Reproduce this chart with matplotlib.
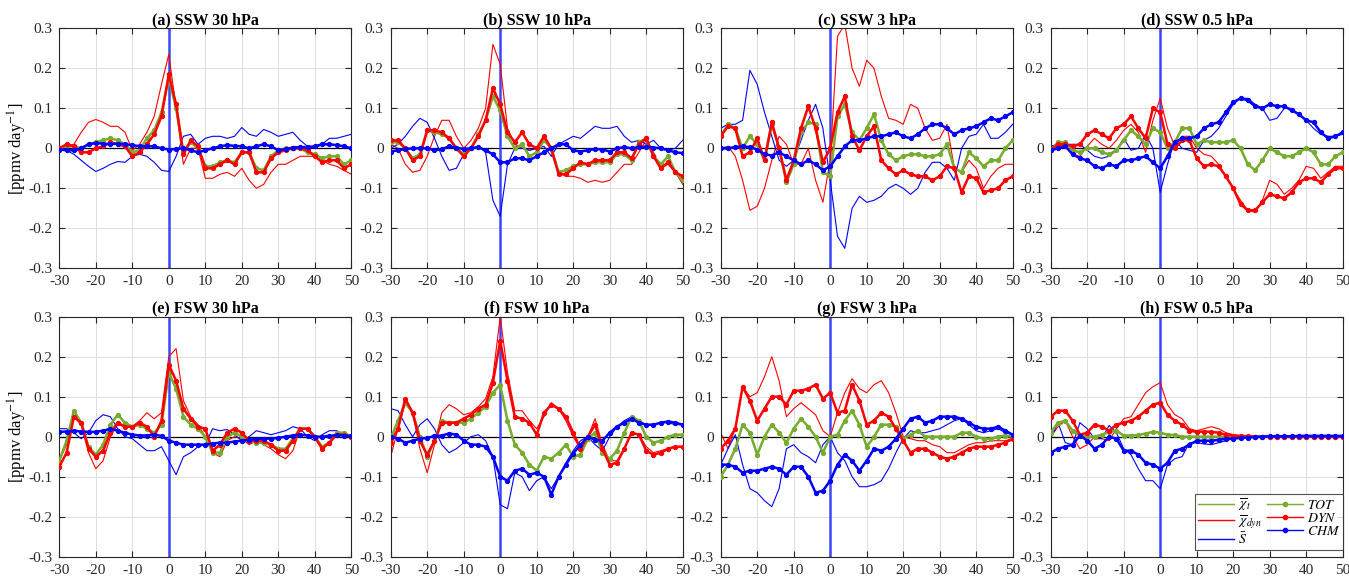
import numpy as np
import matplotlib
matplotlib.use("Agg")
import matplotlib.pyplot as plt
from matplotlib.lines import Line2D

plt.rcParams['font.family'] = ['Liberation Serif', 'DejaVu Serif']
plt.rcParams['mathtext.fontset'] = 'stix'
plt.rcParams['axes.unicode_minus'] = False

days = list(range(-30, 51, 2))

# ---------------- (a) SSW 30 hPa ----------------
TOT_a = [0.000, 0.005, 0.005, 0.000, 0.010, 0.015, 0.020, 0.025, 0.020, 0.010,
         -0.010, -0.005, 0.025, 0.045, 0.090, 0.175, 0.100, -0.010, 0.015, 0.000,
         -0.045, -0.045, -0.035, -0.030, -0.035, -0.010, -0.010, -0.050, -0.055, -0.020,
         -0.005, 0.000, 0.000, 0.000, -0.010, -0.015, -0.025, -0.020, -0.020, -0.040, -0.030]
DYN_a = [0.000, 0.010, 0.005, -0.010, -0.010, 0.000, 0.005, 0.015, 0.010, 0.005,
         -0.020, -0.010, 0.010, 0.035, 0.080, 0.185, 0.110, -0.015, 0.020, 0.005,
         -0.050, -0.050, -0.040, -0.030, -0.040, -0.010, -0.010, -0.060, -0.060, -0.025,
         -0.010, -0.005, 0.000, 0.000, -0.005, -0.020, -0.035, -0.030, -0.030, -0.050, -0.040]
CHM_a = [-0.003, -0.005, -0.005, 0.000, 0.010, 0.013, 0.012, 0.010, 0.012, 0.010,
         0.008, 0.005, 0.005, 0.005, 0.000, -0.003, -0.002, 0.000, -0.005, -0.010,
         -0.005, 0.000, 0.005, 0.008, 0.006, 0.005, 0.000, 0.005, 0.010, 0.005,
         -0.005, -0.002, 0.002, 0.003, 0.003, 0.005, 0.010, 0.010, 0.008, 0.005, 0.000]
XDYN_a = [0.000, 0.005, 0.010, 0.040, 0.065, 0.072, 0.065, 0.055, 0.055, 0.040,
          -0.005, 0.010, 0.040, 0.080, 0.160, 0.235, 0.100, -0.040, 0.000, 0.000,
          -0.075, -0.075, -0.065, -0.060, -0.070, -0.050, -0.080, -0.100, -0.090, -0.060,
          -0.040, -0.040, -0.030, -0.020, -0.020, -0.020, -0.030, -0.040, -0.045, -0.055, -0.065]
XS_a = [0.000, -0.005, -0.015, -0.030, -0.045, -0.058, -0.050, -0.040, -0.033, -0.035,
        -0.020, -0.015, -0.020, -0.035, -0.055, -0.058, -0.020, 0.030, 0.035, 0.010,
        0.025, 0.030, 0.030, 0.025, 0.030, 0.052, 0.035, 0.030, 0.047, 0.040,
        0.030, 0.035, 0.040, 0.020, 0.005, 0.000, 0.010, 0.025, 0.025, 0.030, 0.035]
XT_a = TOT_a

# ---------------- (b) SSW 10 hPa ----------------
TOT_b = [0.015, 0.015, 0.000, -0.025, -0.015, 0.045, 0.040, 0.035, 0.025, 0.000,
         -0.015, 0.000, 0.035, 0.070, 0.130, 0.095, 0.030, 0.000, 0.010, -0.020,
         -0.010, 0.020, 0.000, -0.060, -0.055, -0.045, -0.040, -0.040, -0.035, -0.035,
         -0.035, -0.015, -0.015, -0.030, 0.015, 0.025, -0.020, -0.040, -0.020, -0.060, -0.080]
DYN_b = [0.020, 0.020, 0.000, -0.030, -0.020, 0.045, 0.045, 0.040, 0.025, 0.000,
         -0.020, 0.000, 0.030, 0.070, 0.150, 0.110, 0.040, 0.015, 0.040, 0.010,
         0.000, 0.030, 0.000, -0.065, -0.065, -0.050, -0.035, -0.040, -0.030, -0.030,
         -0.030, -0.010, -0.010, -0.025, 0.010, 0.025, -0.020, -0.050, -0.035, -0.060, -0.070]
CHM_b = [-0.008, -0.005, -0.002, 0.000, 0.000, 0.000, -0.005, -0.002, 0.005, 0.002,
         -0.002, 0.000, 0.003, -0.005, -0.015, -0.035, -0.035, -0.025, -0.025, -0.030,
         -0.020, -0.010, 0.000, 0.010, 0.010, -0.005, -0.008, -0.005, -0.002, -0.003,
         -0.008, 0.000, 0.003, 0.000, 0.003, 0.004, 0.002, 0.000, -0.005, -0.010, -0.012]
XDYN_b = [0.010, 0.000, -0.040, -0.060, -0.055, -0.020, 0.030, 0.070, 0.070, 0.030,
          0.000, 0.020, 0.050, 0.100, 0.260, 0.210, 0.050, 0.010, 0.000, -0.005,
          0.000, 0.030, -0.010, -0.060, -0.070, -0.070, -0.075, -0.085, -0.080, -0.085,
          -0.080, -0.060, -0.040, -0.040, -0.010, 0.020, -0.010, -0.050, -0.040, -0.060, -0.090]
XS_b = [0.000, 0.010, 0.030, 0.055, 0.075, 0.065, 0.025, -0.020, -0.055, -0.050,
        -0.015, 0.000, 0.005, -0.010, -0.130, -0.170, -0.040, 0.000, 0.000, -0.005,
        0.000, 0.005, -0.020, 0.010, 0.020, 0.030, 0.025, 0.040, 0.055, 0.050,
        0.050, 0.055, 0.030, 0.015, 0.020, 0.010, 0.020, 0.000, -0.005, 0.000, 0.020]
XT_b = TOT_b

# ---------------- (c) SSW 3 hPa ----------------
TOT_c = [0.030, 0.060, 0.050, 0.000, 0.030, 0.010, -0.030, 0.060, 0.000, -0.085,
         -0.040, 0.040, 0.065, 0.060, -0.060, -0.070, 0.080, 0.110, 0.040, 0.020,
         0.050, 0.085, 0.020, -0.015, -0.030, -0.020, -0.015, -0.015, -0.020, -0.020,
         -0.015, 0.010, -0.050, -0.060, -0.010, -0.025, -0.045, -0.030, -0.030, 0.000, 0.020]
DYN_c = [0.030, 0.055, 0.050, -0.020, -0.010, 0.025, -0.030, 0.065, 0.000, -0.080,
         -0.030, 0.050, 0.105, 0.050, -0.035, 0.000, 0.090, 0.130, 0.030, -0.005,
         0.030, 0.055, -0.030, -0.050, -0.065, -0.055, -0.065, -0.070, -0.070, -0.080,
         -0.070, -0.045, -0.050, -0.110, -0.070, -0.075, -0.110, -0.105, -0.100, -0.080, -0.070]
CHM_c = [0.000, 0.000, 0.003, 0.005, 0.003, -0.003, -0.015, -0.018, -0.010, -0.020,
         -0.030, -0.040, -0.030, -0.040, -0.055, -0.045, -0.020, 0.005, 0.020, 0.020,
         0.025, 0.030, 0.030, 0.035, 0.040, 0.030, 0.025, 0.035, 0.050, 0.060,
         0.060, 0.050, 0.035, 0.045, 0.050, 0.055, 0.065, 0.075, 0.070, 0.080, 0.090]
XDYN_c = [0.000, 0.005, -0.020, -0.080, -0.155, -0.145, -0.100, -0.030, 0.030, 0.010,
          -0.040, -0.040, 0.000, -0.080, -0.135, -0.030, 0.280, 0.310, 0.200, 0.155,
          0.220, 0.200, 0.130, 0.075, 0.070, 0.060, 0.110, 0.100, 0.050, 0.020,
          0.025, 0.060, -0.050, -0.060, -0.030, -0.050, -0.100, -0.070, -0.050, -0.040, -0.040]
XS_c = [0.050, 0.060, 0.060, 0.070, 0.195, 0.160, 0.090, 0.030, -0.030, -0.045,
        -0.030, 0.020, 0.070, 0.110, 0.050, -0.080, -0.220, -0.250, -0.150, -0.120,
        -0.135, -0.130, -0.120, -0.100, -0.090, -0.100, -0.115, -0.100, -0.060, -0.035,
        -0.035, -0.050, -0.080, 0.000, 0.030, 0.035, 0.060, 0.025, 0.025, 0.040, 0.060]
XT_c = TOT_c

# ---------------- (d) SSW 0.5 hPa ----------------
TOT_d = [-0.005, 0.015, 0.015, -0.005, -0.010, 0.000, 0.000, -0.010, -0.015, -0.005,
         0.020, 0.045, 0.030, 0.010, 0.050, 0.040, 0.000, 0.015, 0.050, 0.050,
         0.010, 0.020, 0.015, 0.015, 0.015, 0.020, 0.000, -0.040, -0.055, -0.030,
         0.000, -0.010, -0.020, -0.020, -0.010, 0.000, -0.010, -0.040, -0.040, -0.020, -0.010]
DYN_d = [-0.005, 0.010, 0.010, 0.005, 0.010, 0.035, 0.045, 0.035, 0.025, 0.050,
         0.060, 0.080, 0.050, 0.025, 0.100, 0.090, 0.010, 0.000, 0.020, 0.020,
         -0.025, -0.045, -0.040, -0.045, -0.070, -0.100, -0.140, -0.155, -0.155, -0.135,
         -0.115, -0.120, -0.125, -0.110, -0.085, -0.075, -0.075, -0.085, -0.065, -0.050, -0.050]
CHM_d = [-0.005, 0.000, 0.005, -0.015, -0.025, -0.030, -0.045, -0.050, -0.040, -0.045,
         -0.030, -0.030, -0.025, -0.020, -0.035, -0.050, -0.020, 0.015, 0.025, 0.025,
         0.030, 0.050, 0.060, 0.065, 0.090, 0.115, 0.125, 0.120, 0.105, 0.100,
         0.110, 0.105, 0.105, 0.095, 0.085, 0.070, 0.065, 0.040, 0.025, 0.030, 0.040]
XDYN_d = [0.005, 0.010, 0.005, -0.015, -0.020, 0.005, 0.025, 0.010, 0.000, 0.020,
          0.045, 0.060, 0.040, -0.010, 0.070, 0.125, 0.050, 0.005, 0.030, 0.030,
          0.000, -0.015, -0.020, -0.040, -0.070, -0.100, -0.130, -0.155, -0.160, -0.130,
          -0.080, -0.090, -0.115, -0.100, -0.080, -0.045, -0.050, -0.075, -0.060, -0.045, -0.045]
XS_d = [0.005, 0.010, 0.010, 0.010, 0.010, -0.005, -0.020, -0.025, -0.020, -0.005,
        0.025, -0.005, 0.000, 0.035, 0.000, -0.110, -0.040, 0.020, 0.000, -0.005,
        -0.010, 0.020, 0.030, 0.050, 0.080, 0.110, 0.125, 0.125, 0.110, 0.100,
        0.070, 0.075, 0.100, 0.100, 0.085, 0.070, 0.050, 0.035, 0.030, 0.030, 0.035]
XT_d = TOT_d

# ---------------- (e) FSW 30 hPa ----------------
TOT_e = [-0.060, -0.010, 0.065, 0.035, -0.025, -0.045, -0.020, 0.030, 0.055, 0.035,
         0.025, 0.030, 0.020, 0.010, 0.030, 0.160, 0.120, 0.050, 0.030, 0.020,
         0.000, -0.040, -0.040, 0.000, 0.010, 0.000, -0.010, -0.015, -0.015, -0.020,
         -0.030, -0.030, -0.005, 0.020, 0.020, 0.000, -0.025, -0.015, 0.010, 0.010, 0.000]
DYN_e = [-0.075, -0.040, 0.050, 0.035, -0.030, -0.050, -0.035, 0.010, 0.035, 0.025,
         0.025, 0.035, 0.025, 0.000, 0.040, 0.180, 0.140, 0.070, 0.045, 0.025,
         0.020, -0.035, -0.020, 0.010, 0.020, 0.010, -0.010, -0.010, -0.010, -0.020,
         -0.035, -0.035, -0.010, 0.020, 0.020, 0.000, -0.030, -0.015, 0.005, 0.005, 0.000]
CHM_e = [0.012, 0.013, 0.015, 0.013, 0.012, 0.012, 0.015, 0.020, 0.015, 0.010,
         0.005, 0.003, 0.003, 0.005, 0.002, -0.010, -0.015, -0.020, -0.020, -0.020,
         -0.020, -0.017, -0.015, -0.015, -0.012, -0.010, -0.008, -0.005, -0.005, -0.005,
         -0.003, 0.000, 0.003, 0.005, 0.003, 0.000, 0.000, 0.002, 0.004, 0.003, 0.002]
XDYN_e = [-0.060, -0.020, 0.050, 0.030, -0.040, -0.080, -0.060, 0.000, 0.030, 0.025,
          0.025, 0.040, 0.060, 0.045, 0.060, 0.200, 0.220, 0.090, 0.050, 0.030,
          0.000, -0.040, -0.050, -0.010, 0.000, -0.005, -0.020, -0.010, -0.020, -0.030,
          -0.045, -0.055, -0.035, 0.020, 0.020, -0.005, -0.030, -0.015, 0.010, 0.010, 0.000]
XS_e = [0.020, 0.020, 0.010, -0.005, 0.010, 0.040, 0.055, 0.050, 0.020, 0.000,
        -0.005, -0.020, -0.035, -0.035, -0.025, -0.060, -0.095, -0.050, -0.040, -0.025,
        -0.020, 0.020, 0.015, 0.018, 0.005, -0.010, 0.000, 0.015, 0.010, 0.005,
        0.010, 0.015, 0.025, 0.020, 0.000, -0.010, 0.005, 0.015, 0.015, 0.005, 0.000]
XT_e = TOT_e

# ---------------- (f) FSW 10 hPa ----------------
TOT_f = [-0.005, 0.040, 0.085, 0.060, 0.000, -0.050, -0.010, 0.040, 0.035, 0.035,
         0.035, 0.045, 0.060, 0.075, 0.110, 0.130, 0.040, -0.020, -0.040, -0.070,
         -0.085, -0.050, -0.055, -0.040, -0.020, -0.050, -0.045, -0.005, 0.010, -0.040,
         -0.055, -0.035, 0.010, 0.050, 0.040, 0.000, -0.015, -0.010, 0.000, 0.005, 0.005]
DYN_f = [-0.015, 0.020, 0.095, 0.060, -0.010, -0.045, -0.010, 0.035, 0.035, 0.035,
         0.045, 0.055, 0.070, 0.080, 0.135, 0.240, 0.140, 0.050, 0.045, 0.035,
         0.005, 0.060, 0.080, 0.070, 0.050, 0.010, -0.030, 0.000, 0.030, -0.030,
         -0.070, -0.065, -0.030, 0.010, 0.005, -0.035, -0.045, -0.040, -0.030, -0.025, -0.025]
CHM_f = [0.000, -0.005, -0.015, -0.010, -0.005, -0.003, 0.002, 0.003, 0.008, 0.005,
         -0.010, -0.020, -0.020, -0.025, -0.050, -0.100, -0.110, -0.085, -0.080, -0.095,
         -0.090, -0.100, -0.145, -0.100, -0.070, -0.042, -0.020, 0.000, -0.008, -0.010,
         0.010, 0.025, 0.035, 0.045, 0.035, 0.030, 0.030, 0.035, 0.038, 0.035, 0.030]
XDYN_f = [-0.050, 0.020, 0.085, 0.060, -0.030, -0.090, -0.020, 0.060, 0.080, 0.070,
          0.055, 0.060, 0.075, 0.095, 0.150, 0.300, 0.160, 0.065, 0.065, 0.040,
          0.020, 0.050, 0.085, 0.070, 0.040, 0.000, -0.030, 0.000, 0.045, -0.020,
          -0.060, -0.060, -0.030, 0.010, 0.005, -0.025, -0.040, -0.035, -0.030, -0.025, -0.025]
XS_f = [0.070, 0.065, 0.030, 0.000, 0.030, 0.045, 0.020, -0.020, -0.040, -0.030,
        -0.015, 0.000, 0.005, -0.010, -0.050, -0.170, -0.180, -0.090, -0.100, -0.135,
        -0.110, -0.100, -0.130, -0.100, -0.065, -0.035, -0.010, 0.000, -0.020, -0.035,
        0.000, 0.025, 0.040, 0.050, 0.040, 0.030, 0.030, 0.035, 0.035, 0.030, 0.030]
XT_f = TOT_f

# ---------------- (g) FSW 3 hPa ----------------
TOT_g = [-0.100, -0.070, -0.030, 0.030, 0.010, -0.045, 0.000, 0.030, 0.010, -0.015,
         0.020, 0.045, 0.025, 0.000, -0.040, 0.000, 0.005, 0.040, 0.065, 0.030,
         -0.025, 0.000, 0.030, 0.030, 0.025, -0.005, 0.005, 0.015, 0.000, 0.000,
         0.000, 0.000, 0.000, 0.010, 0.010, 0.000, -0.005, -0.005, 0.000, 0.003, 0.000]
DYN_g = [-0.030, -0.010, 0.020, 0.125, 0.090, 0.040, 0.070, 0.100, 0.100, 0.080,
         0.115, 0.115, 0.120, 0.130, 0.095, 0.110, 0.060, 0.065, 0.130, 0.090,
         0.030, 0.040, 0.060, 0.050, 0.020, -0.010, -0.040, -0.030, -0.030, -0.040,
         -0.050, -0.055, -0.050, -0.040, -0.030, -0.025, -0.025, -0.025, -0.020, -0.015, -0.005]
CHM_g = [-0.070, -0.070, -0.075, -0.090, -0.085, -0.085, -0.080, -0.075, -0.080, -0.095,
         -0.075, -0.075, -0.100, -0.140, -0.135, -0.110, -0.070, -0.045, -0.060, -0.085,
         -0.060, -0.030, -0.035, -0.025, -0.005, 0.020, 0.045, 0.050, 0.035, 0.040,
         0.050, 0.050, 0.050, 0.045, 0.035, 0.025, 0.020, 0.020, 0.025, 0.015, 0.005]
XDYN_g = [0.010, -0.030, 0.020, 0.125, 0.100, 0.110, 0.150, 0.200, 0.140, 0.050,
          0.070, 0.085, 0.070, 0.055, 0.015, 0.000, 0.060, 0.110, 0.145, 0.120,
          0.110, 0.130, 0.140, 0.110, 0.060, 0.000, -0.005, -0.010, -0.010, -0.020,
          -0.025, -0.040, -0.040, -0.030, -0.020, -0.015, -0.015, -0.010, -0.010, -0.010, -0.005]
XS_g = [-0.070, -0.030, 0.005, -0.070, -0.130, -0.140, -0.160, -0.175, -0.130, -0.030,
        -0.020, -0.040, -0.050, -0.065, -0.020, 0.000, -0.040, -0.060, -0.100, -0.125,
        -0.125, -0.120, -0.110, -0.080, -0.040, -0.005, 0.015, 0.010, 0.010, 0.015,
        0.020, 0.030, 0.040, 0.045, 0.030, 0.015, 0.010, 0.015, 0.020, 0.010, 0.005]
XT_g = TOT_g

# ---------------- (h) FSW 0.5 hPa ----------------
TOT_h = [0.010, 0.035, 0.040, 0.015, 0.003, 0.000, 0.000, 0.005, 0.012, 0.015,
         0.003, 0.003, 0.004, 0.008, 0.012, 0.010, 0.005, 0.004, 0.000, 0.000,
         0.000, 0.000, 0.000, 0.000, 0.000, 0.000, 0.000, 0.000, 0.000, 0.000,
         0.000, 0.000, 0.000, 0.000, 0.000, 0.000, 0.000, 0.000, 0.000, 0.000, 0.000]
DYN_h = [0.050, 0.065, 0.065, 0.040, 0.005, 0.010, 0.030, 0.025, 0.015, 0.030,
         0.035, 0.040, 0.050, 0.065, 0.080, 0.085, 0.055, 0.040, 0.030, 0.015,
         0.012, 0.013, 0.012, 0.010, 0.005, 0.003, 0.002, 0.001, 0.000, 0.000,
         0.000, 0.000, 0.000, 0.000, 0.000, 0.000, 0.000, 0.000, 0.000, 0.000, 0.000]
CHM_h = [-0.040, -0.030, -0.025, -0.020, 0.003, -0.010, -0.030, -0.020, 0.000, -0.005,
         -0.035, -0.035, -0.045, -0.065, -0.070, -0.080, -0.065, -0.035, -0.030, -0.020,
         -0.010, -0.010, -0.010, -0.008, -0.005, -0.005, -0.003, -0.002, -0.001, 0.000,
         0.001, 0.001, 0.001, 0.001, 0.002, 0.002, 0.002, 0.002, 0.002, 0.002, 0.002]
XDYN_h = [0.000, 0.025, 0.040, 0.000, -0.030, -0.020, 0.000, -0.005, -0.010, 0.020,
          0.045, 0.050, 0.080, 0.110, 0.125, 0.135, 0.080, 0.055, 0.045, 0.020,
          0.015, 0.020, 0.025, 0.020, 0.010, 0.005, 0.002, 0.000, 0.000, -0.002,
          -0.002, -0.002, -0.002, -0.002, -0.002, -0.002, -0.002, -0.002, -0.002, -0.002, -0.002]
XS_h = [-0.005, 0.035, -0.015, -0.020, 0.035, 0.020, -0.005, -0.005, 0.028, 0.010,
        -0.030, -0.045, -0.080, -0.110, -0.110, -0.130, -0.070, -0.055, -0.050, -0.015,
        -0.015, -0.018, -0.020, -0.015, -0.010, -0.005, -0.003, -0.001, 0.000, 0.000,
        0.000, 0.000, 0.000, 0.000, 0.000, 0.000, 0.000, 0.000, 0.000, 0.000, 0.000]
XT_h = TOT_h

titles = ['(a) SSW 30 hPa', '(b) SSW 10 hPa', '(c) SSW 3 hPa', '(d) SSW 0.5 hPa',
          '(e) FSW 30 hPa', '(f) FSW 10 hPa', '(g) FSW 3 hPa', '(h) FSW 0.5 hPa']
panels = [
    (XT_a, XDYN_a, XS_a, TOT_a, DYN_a, CHM_a),
    (XT_b, XDYN_b, XS_b, TOT_b, DYN_b, CHM_b),
    (XT_c, XDYN_c, XS_c, TOT_c, DYN_c, CHM_c),
    (XT_d, XDYN_d, XS_d, TOT_d, DYN_d, CHM_d),
    (XT_e, XDYN_e, XS_e, TOT_e, DYN_e, CHM_e),
    (XT_f, XDYN_f, XS_f, TOT_f, DYN_f, CHM_f),
    (XT_g, XDYN_g, XS_g, TOT_g, DYN_g, CHM_g),
    (XT_h, XDYN_h, XS_h, TOT_h, DYN_h, CHM_h),
]
for p in panels:
    for s in p:
        assert len(s) == len(days), len(s)

x_ticks = [-30, -20, -10, 0, 10, 20, 30, 40, 50]
y_ticks = [-0.3, -0.2, -0.1, 0.0, 0.1, 0.2, 0.3]
y_labels = ['-0.3', '-0.2', '-0.1', '0', '0.1', '0.2', '0.3']
legend_labels = [r'$\overline{\chi}_t$', r'$\overline{\chi}_{dyn}$', r'$\bar{S}$',
                 r'$TOT$', r'$DYN$', r'$CHM$']

GREEN = '#77AC30'
RED = '#FF0000'
BLUE = '#0000FF'

W, H = 1349, 579
fig = plt.figure(figsize=(W / 100, H / 100), dpi=100)
lefts = [59.3, 390.7, 720.7, 1050.7]
tops = [28.3, 316.7]
aw, ah = 292.0, 240.0

for i, (title, series) in enumerate(zip(titles, panels)):
    r, c = divmod(i, 4)
    ax = fig.add_axes([lefts[c] / W, 1 - (tops[r] + ah) / H, aw / W, ah / H])
    xt, xdyn, xs, tot, dyn, chm = series
    ax.axhline(0, color='black', lw=0.9, zorder=1)
    ax.axvline(0, color='#3b45ff', lw=1.8, zorder=1)
    ax.plot(days, xt, color=GREEN, lw=0.9, zorder=2)
    ax.plot(days, xdyn, color=RED, lw=0.8, zorder=2)
    ax.plot(days, xs, color=BLUE, lw=0.8, zorder=2)
    ax.plot(days, tot, color=GREEN, lw=1.8, marker='o', ms=2.8, zorder=3)
    ax.plot(days, dyn, color=RED, lw=1.8, marker='o', ms=2.8, zorder=3)
    ax.plot(days, chm, color=BLUE, lw=1.8, marker='o', ms=2.8, zorder=3)
    ax.set_xlim(-30, 50)
    ax.set_ylim(-0.3, 0.3)
    ax.set_xticks(x_ticks)
    ax.set_yticks(y_ticks)
    ax.set_yticklabels(y_labels)
    ax.grid(True, color='#dddddd', lw=0.7, zorder=0)
    ax.set_axisbelow(True)
    ax.tick_params(direction='in', top=True, right=True, labelsize=11,
                   length=4, width=0.8, colors='#262626', pad=5)
    for sp in ax.spines.values():
        sp.set_color('#262626')
        sp.set_linewidth(0.8)
    ax.set_title(title, fontsize=11.5, fontweight='bold', pad=3)
    if c == 0:
        ax.set_ylabel(r'[ppmv day$^{-1}$]', fontsize=12)
        ax.yaxis.set_label_coords(-0.105, 0.5)
    if i == 7:
        handles = [
            Line2D([], [], color=GREEN, lw=1.0),
            Line2D([], [], color=RED, lw=1.0),
            Line2D([], [], color=BLUE, lw=1.0),
            Line2D([], [], color=GREEN, lw=1.0, marker='o', ms=3),
            Line2D([], [], color=RED, lw=1.0, marker='o', ms=3),
            Line2D([], [], color=BLUE, lw=1.0, marker='o', ms=3),
        ]
        leg = ax.legend(handles, legend_labels, loc='lower right', ncol=2,
                        fontsize=10, frameon=True, numpoints=1,
                        fancybox=False, edgecolor='#262626', handlelength=2.6,
                        columnspacing=0.4, labelspacing=0.0, borderpad=0.2,
                        handletextpad=0.25, bbox_to_anchor=(1.0, 0.03),
                        borderaxespad=0.0)
        leg.get_frame().set_linewidth(0.8)

fig.savefig('out.png', dpi=100)
